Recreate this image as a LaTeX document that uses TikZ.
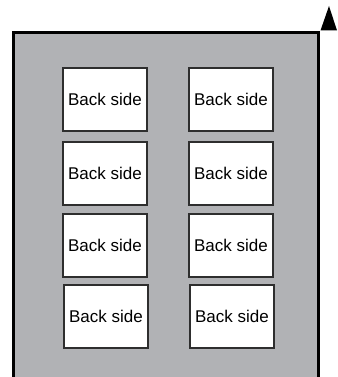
\documentclass[tikz,border=0pt]{standalone}
\usepackage{fontspec}
\setmainfont{Liberation Sans}
\usepackage{xcolor}
\definecolor{sheetgray}{HTML}{B1B2B5}
\definecolor{cardline}{HTML}{2E2E2E}
\tikzset{
  sheet/.style={draw=black,line width=2.6pt,fill=sheetgray},
  card/.style ={draw=cardline,line width=1.4pt,fill=white,minimum width=84pt,minimum height=63pt,
                inner sep=0pt,font=\fontsize{17}{20}\selectfont},
  tipmark/.style={fill=black},
}
\begin{document}
\begin{tikzpicture}[x=1pt,y=-1pt]
  \useasboundingbox (0,0) rectangle (337,377);
  \clip (0,0) rectangle (337,377);
  \path[sheet] (13.5,32.5) rectangle (318.5,400);
  \coordinate (tip) at (329,6);
  \coordinate (bl) at (320.5,30.5);
  \coordinate (br) at (337,30.5);
  \path[tipmark] (tip) -- (bl) -- (br) -- cycle;
  \node[card] (b11) at (105,99.5) {Back side};
  \node[card] (b12) at (231,99.5) {Back side};
  \node[card] (b21) at (105,173.5) {Back side};
  \node[card] (b22) at (231,173.5) {Back side};
  \node[card] (b31) at (105,245.5) {Back side};
  \node[card] (b32) at (231,245.5) {Back side};
  \node[card] (b41) at (106,316.5) {Back side};
  \node[card] (b42) at (232,316.5) {Back side};
\end{tikzpicture}
\end{document}
